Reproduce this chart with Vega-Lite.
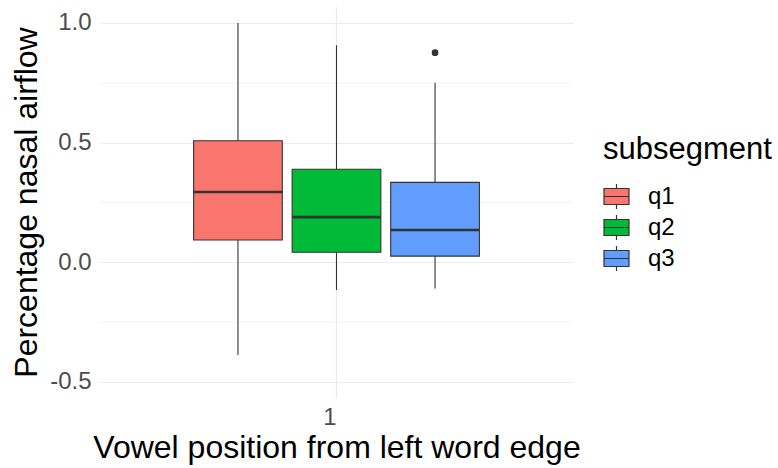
{
  "$schema": "https://vega.github.io/schema/vega-lite/v6.json",
  "width": 473,
  "height": 392,
  "autosize": {"type": "none"},
  "padding": {"left": 100, "top": 6, "right": 205, "bottom": 70},
  "background": "white",
  "config": {
    "font": "Liberation Sans",
    "view": {"stroke": null},
    "axis": {
      "domain": false,
      "ticks": false,
      "gridColor": "#EBEBEB",
      "gridWidth": 1.2,
      "labelColor": "#4D4D4D",
      "labelFontSize": 24,
      "titleFontSize": 32,
      "titleFontWeight": "normal",
      "titleColor": "#000000"
    }
  },
  "datasets": {
    "stats": [
      {"position": "1", "subsegment": "q1", "lower": -0.387, "q1": 0.093, "median": 0.294, "q3": 0.508, "upper": 1.0},
      {"position": "1", "subsegment": "q2", "lower": -0.116, "q1": 0.042, "median": 0.189, "q3": 0.389, "upper": 0.907},
      {"position": "1", "subsegment": "q3", "lower": -0.109, "q1": 0.026, "median": 0.135, "q3": 0.334, "upper": 0.75}
    ],
    "outliers": [
      {"position": "1", "subsegment": "q3", "value": 0.876}
    ],
    "minor": [{"y": -0.25}, {"y": 0.25}, {"y": 0.75}]
  },
  "layer": [
    {
      "data": {"name": "minor"},
      "mark": {"type": "rule", "color": "#EBEBEB", "strokeWidth": 0.6},
      "encoding": {
        "y": {"field": "y", "type": "quantitative"}
      }
    },
    {
      "data": {"name": "stats"},
      "mark": {"type": "rule", "color": "#333333", "strokeWidth": 1.1},
      "encoding": {
        "x": {"field": "position", "type": "nominal"},
        "xOffset": {"field": "subsegment", "type": "nominal"},
        "y": {"field": "lower", "type": "quantitative"},
        "y2": {"field": "upper"}
      }
    },
    {
      "data": {"name": "stats"},
      "mark": {"type": "bar", "stroke": "#333333", "strokeWidth": 1.1},
      "encoding": {
        "x": {
          "field": "position",
          "type": "nominal",
          "scale": {"paddingInner": 0, "paddingOuter": 0.3},
          "axis": {
            "title": "Vowel position from left word edge",
            "labelAngle": 0,
            "labelPadding": 19,
            "titlePadding": 3,
            "bandPosition": 0.5,
            "grid": true
          }
        },
        "xOffset": {
          "field": "subsegment",
          "type": "nominal",
          "scale": {"paddingInner": 0.1, "paddingOuter": 0.05}
        },
        "y": {
          "field": "q1",
          "type": "quantitative",
          "scale": {"domain": [-0.567, 1.071], "nice": false, "zero": false},
          "axis": {
            "title": "Percentage nasal airflow",
            "values": [-0.5, 0, 0.5, 1.0],
            "labelExpr": "datum.value < 0 ? '-' + format(-datum.value, '.1f') : format(datum.value, '.1f')",
            "labelPadding": 9,
            "titlePadding": 6,
            "grid": true
          }
        },
        "y2": {"field": "q3"},
        "fill": {
          "field": "subsegment",
          "type": "nominal",
          "scale": {"domain": ["q1", "q2", "q3"], "range": ["#F8766D", "#00BA38", "#619CFF"]},
          "legend": {
            "title": "subsegment",
            "orient": "none",
            "legendX": 503,
            "legendY": 129,
            "titleFontSize": 31,
            "titleFontWeight": "normal",
            "titleColor": "#000000",
            "titlePadding": 17,
            "labelFontSize": 24,
            "labelColor": "#000000",
            "labelOffset": 18,
            "symbolType": "M-1,-0.64H1V0.64H-1Z M-1,0H1 M0,-0.64V-1 M0,0.64V1",
            "symbolSize": 625,
            "symbolStrokeColor": "#333333",
            "symbolStrokeWidth": 1.2,
            "symbolOpacity": 1,
            "rowPadding": 0
          }
        }
      }
    },
    {
      "data": {"name": "stats"},
      "mark": {"type": "bar", "fillOpacity": 0, "stroke": "#333333", "strokeWidth": 2.6},
      "encoding": {
        "x": {"field": "position", "type": "nominal"},
        "xOffset": {"field": "subsegment", "type": "nominal"},
        "y": {"field": "median", "type": "quantitative"},
        "y2": {"field": "median"}
      }
    },
    {
      "data": {"name": "outliers"},
      "mark": {"type": "point", "filled": true, "color": "#333333", "opacity": 1, "size": 45},
      "encoding": {
        "x": {"field": "position", "type": "nominal"},
        "xOffset": {"field": "subsegment", "type": "nominal"},
        "y": {"field": "value", "type": "quantitative"}
      }
    }
  ]
}
